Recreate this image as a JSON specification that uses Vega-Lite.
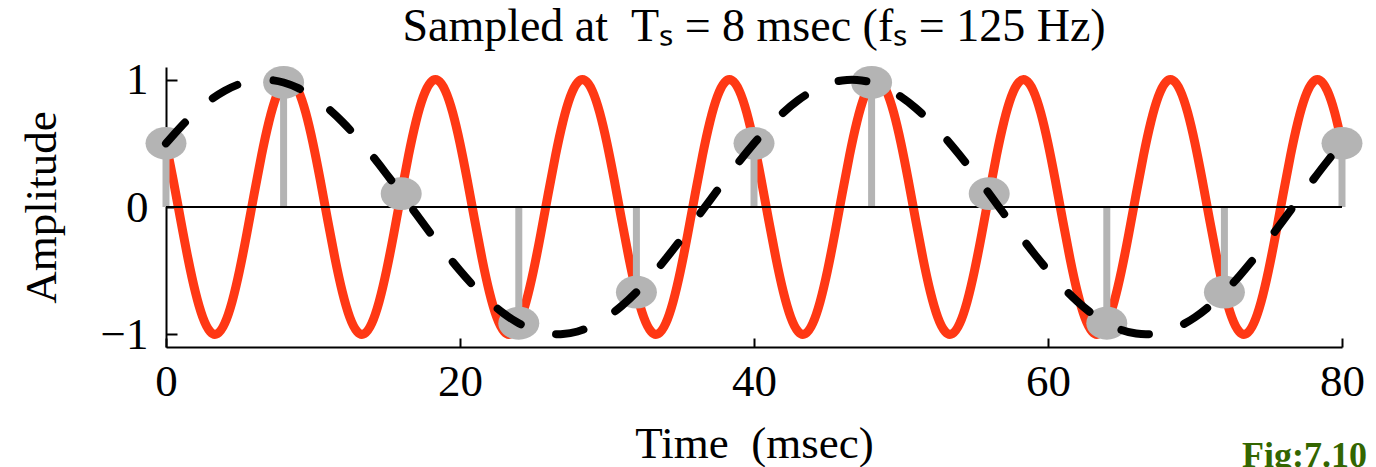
{
  "$schema": "https://vega.github.io/schema/vega-lite/v6.json",
  "width": 1176,
  "height": 280,
  "autosize": {"type": "none"},
  "padding": {"left": 166, "top": 67, "right": 34, "bottom": 120},
  "background": "white",
  "config": {"view": {"stroke": null}, "font": "Liberation Serif"},
  "title": {
    "text": "Sampled at \u00a0Tₛ = 8 msec (fₛ = 125 Hz)",
    "font": "Liberation Serif",
    "fontSize": 46,
    "fontWeight": "normal",
    "color": "black",
    "anchor": "middle",
    "offset": 7
  },
  "datasets": {
    "red": [
      {"t":0,"v":0.5},{"t":0.5,"v":0.2079},{"t":1,"v":-0.1045},{"t":1.5,"v":-0.4067},{"t":2,"v":-0.6691},{"t":2.5,"v":-0.866},{"t":3,"v":-0.9781},{"t":3.5,"v":-0.9945},{"t":4,"v":-0.9135},{"t":4.5,"v":-0.7431},{"t":5,"v":-0.5},{"t":5.5,"v":-0.2079},{"t":6,"v":0.1045},{"t":6.5,"v":0.4067},{"t":7,"v":0.6691},{"t":7.5,"v":0.866},{"t":8,"v":0.9781},{"t":8.5,"v":0.9945},{"t":9,"v":0.9135},{"t":9.5,"v":0.7431},
      {"t":10,"v":0.5},{"t":10.5,"v":0.2079},{"t":11,"v":-0.1045},{"t":11.5,"v":-0.4067},{"t":12,"v":-0.6691},{"t":12.5,"v":-0.866},{"t":13,"v":-0.9781},{"t":13.5,"v":-0.9945},{"t":14,"v":-0.9135},{"t":14.5,"v":-0.7431},{"t":15,"v":-0.5},{"t":15.5,"v":-0.2079},{"t":16,"v":0.1045},{"t":16.5,"v":0.4067},{"t":17,"v":0.6691},{"t":17.5,"v":0.866},{"t":18,"v":0.9781},{"t":18.5,"v":0.9945},{"t":19,"v":0.9135},{"t":19.5,"v":0.7431},
      {"t":20,"v":0.5},{"t":20.5,"v":0.2079},{"t":21,"v":-0.1045},{"t":21.5,"v":-0.4067},{"t":22,"v":-0.6691},{"t":22.5,"v":-0.866},{"t":23,"v":-0.9781},{"t":23.5,"v":-0.9945},{"t":24,"v":-0.9135},{"t":24.5,"v":-0.7431},{"t":25,"v":-0.5},{"t":25.5,"v":-0.2079},{"t":26,"v":0.1045},{"t":26.5,"v":0.4067},{"t":27,"v":0.6691},{"t":27.5,"v":0.866},{"t":28,"v":0.9781},{"t":28.5,"v":0.9945},{"t":29,"v":0.9135},{"t":29.5,"v":0.7431},
      {"t":30,"v":0.5},{"t":30.5,"v":0.2079},{"t":31,"v":-0.1045},{"t":31.5,"v":-0.4067},{"t":32,"v":-0.6691},{"t":32.5,"v":-0.866},{"t":33,"v":-0.9781},{"t":33.5,"v":-0.9945},{"t":34,"v":-0.9135},{"t":34.5,"v":-0.7431},{"t":35,"v":-0.5},{"t":35.5,"v":-0.2079},{"t":36,"v":0.1045},{"t":36.5,"v":0.4067},{"t":37,"v":0.6691},{"t":37.5,"v":0.866},{"t":38,"v":0.9781},{"t":38.5,"v":0.9945},{"t":39,"v":0.9135},{"t":39.5,"v":0.7431},
      {"t":40,"v":0.5},{"t":40.5,"v":0.2079},{"t":41,"v":-0.1045},{"t":41.5,"v":-0.4067},{"t":42,"v":-0.6691},{"t":42.5,"v":-0.866},{"t":43,"v":-0.9781},{"t":43.5,"v":-0.9945},{"t":44,"v":-0.9135},{"t":44.5,"v":-0.7431},{"t":45,"v":-0.5},{"t":45.5,"v":-0.2079},{"t":46,"v":0.1045},{"t":46.5,"v":0.4067},{"t":47,"v":0.6691},{"t":47.5,"v":0.866},{"t":48,"v":0.9781},{"t":48.5,"v":0.9945},{"t":49,"v":0.9135},{"t":49.5,"v":0.7431},
      {"t":50,"v":0.5},{"t":50.5,"v":0.2079},{"t":51,"v":-0.1045},{"t":51.5,"v":-0.4067},{"t":52,"v":-0.6691},{"t":52.5,"v":-0.866},{"t":53,"v":-0.9781},{"t":53.5,"v":-0.9945},{"t":54,"v":-0.9135},{"t":54.5,"v":-0.7431},{"t":55,"v":-0.5},{"t":55.5,"v":-0.2079},{"t":56,"v":0.1045},{"t":56.5,"v":0.4067},{"t":57,"v":0.6691},{"t":57.5,"v":0.866},{"t":58,"v":0.9781},{"t":58.5,"v":0.9945},{"t":59,"v":0.9135},{"t":59.5,"v":0.7431},
      {"t":60,"v":0.5},{"t":60.5,"v":0.2079},{"t":61,"v":-0.1045},{"t":61.5,"v":-0.4067},{"t":62,"v":-0.6691},{"t":62.5,"v":-0.866},{"t":63,"v":-0.9781},{"t":63.5,"v":-0.9945},{"t":64,"v":-0.9135},{"t":64.5,"v":-0.7431},{"t":65,"v":-0.5},{"t":65.5,"v":-0.2079},{"t":66,"v":0.1045},{"t":66.5,"v":0.4067},{"t":67,"v":0.6691},{"t":67.5,"v":0.866},{"t":68,"v":0.9781},{"t":68.5,"v":0.9945},{"t":69,"v":0.9135},{"t":69.5,"v":0.7431},
      {"t":70,"v":0.5},{"t":70.5,"v":0.2079},{"t":71,"v":-0.1045},{"t":71.5,"v":-0.4067},{"t":72,"v":-0.6691},{"t":72.5,"v":-0.866},{"t":73,"v":-0.9781},{"t":73.5,"v":-0.9945},{"t":74,"v":-0.9135},{"t":74.5,"v":-0.7431},{"t":75,"v":-0.5},{"t":75.5,"v":-0.2079},{"t":76,"v":0.1045},{"t":76.5,"v":0.4067},{"t":77,"v":0.6691},{"t":77.5,"v":0.866},{"t":78,"v":0.9781},{"t":78.5,"v":0.9945},{"t":79,"v":0.9135},{"t":79.5,"v":0.7431},
      {"t":80,"v":0.5}
    ],
    "alias": [
      {"t":0,"v":0.5},{"t":1,"v":0.6293},{"t":2,"v":0.7431},{"t":3,"v":0.8387},{"t":4,"v":0.9135},{"t":5,"v":0.9659},{"t":6,"v":0.9945},{"t":7,"v":0.9986},{"t":8,"v":0.9781},{"t":9,"v":0.9336},
      {"t":10,"v":0.866},{"t":11,"v":0.7771},{"t":12,"v":0.6691},{"t":13,"v":0.5446},{"t":14,"v":0.4067},{"t":15,"v":0.2588},{"t":16,"v":0.1045},{"t":17,"v":-0.0523},{"t":18,"v":-0.2079},{"t":19,"v":-0.3584},
      {"t":20,"v":-0.5},{"t":21,"v":-0.6293},{"t":22,"v":-0.7431},{"t":23,"v":-0.8387},{"t":24,"v":-0.9135},{"t":25,"v":-0.9659},{"t":26,"v":-0.9945},{"t":27,"v":-0.9986},{"t":28,"v":-0.9781},{"t":29,"v":-0.9336},
      {"t":30,"v":-0.866},{"t":31,"v":-0.7771},{"t":32,"v":-0.6691},{"t":33,"v":-0.5446},{"t":34,"v":-0.4067},{"t":35,"v":-0.2588},{"t":36,"v":-0.1045},{"t":37,"v":0.0523},{"t":38,"v":0.2079},{"t":39,"v":0.3584},
      {"t":40,"v":0.5},{"t":41,"v":0.6293},{"t":42,"v":0.7431},{"t":43,"v":0.8387},{"t":44,"v":0.9135},{"t":45,"v":0.9659},{"t":46,"v":0.9945},{"t":47,"v":0.9986},{"t":48,"v":0.9781},{"t":49,"v":0.9336},
      {"t":50,"v":0.866},{"t":51,"v":0.7771},{"t":52,"v":0.6691},{"t":53,"v":0.5446},{"t":54,"v":0.4067},{"t":55,"v":0.2588},{"t":56,"v":0.1045},{"t":57,"v":-0.0523},{"t":58,"v":-0.2079},{"t":59,"v":-0.3584},
      {"t":60,"v":-0.5},{"t":61,"v":-0.6293},{"t":62,"v":-0.7431},{"t":63,"v":-0.8387},{"t":64,"v":-0.9135},{"t":65,"v":-0.9659},{"t":66,"v":-0.9945},{"t":67,"v":-0.9986},{"t":68,"v":-0.9781},{"t":69,"v":-0.9336},
      {"t":70,"v":-0.866},{"t":71,"v":-0.7771},{"t":72,"v":-0.6691},{"t":73,"v":-0.5446},{"t":74,"v":-0.4067},{"t":75,"v":-0.2588},{"t":76,"v":-0.1045},{"t":77,"v":0.0523},{"t":78,"v":0.2079},{"t":79,"v":0.3584},
      {"t":80,"v":0.5}
    ],
    "samples": [
      {"t":0,"v":0.5},{"t":8,"v":0.9781},{"t":16,"v":0.1045},{"t":24,"v":-0.9135},{"t":32,"v":-0.6691},{"t":40,"v":0.5},{"t":48,"v":0.9781},{"t":56,"v":0.1045},{"t":64,"v":-0.9135},{"t":72,"v":-0.6691},{"t":80,"v":0.5}
    ],
    "zero": [{"t":0,"v":0},{"t":80,"v":0}],
    "note": [{"label":"Fig:7.10"}]
  },
  "layer": [
    {
      "data": {"name": "red"},
      "mark": {"type": "line", "color": "#ff3814", "strokeWidth": 9, "interpolate": "natural", "strokeCap": "round"},
      "encoding": {
        "x": {
          "field": "t", "type": "quantitative",
          "scale": {"domain": [0, 80], "nice": false, "zero": false},
          "title": "Time\u00a0 (msec)",
          "axis": {
            "values": [0, 20, 40, 60, 80], "grid": false, "format": ".0f",
            "domainColor": "black", "domainWidth": 2,
            "tickColor": "black", "tickWidth": 2, "tickSize": -9,
            "labelFont": "Liberation Serif", "labelFontSize": 45, "labelColor": "black",
            "labelPadding": 21, "labelFlush": false, "labelOverlap": false,
            "titleFont": "Liberation Serif", "titleFontSize": 45, "titleFontWeight": "normal",
            "titleColor": "black", "titlePadding": 17
          }
        },
        "y": {
          "field": "v", "type": "quantitative",
          "scale": {"domain": [-1.1, 1.1], "nice": false, "zero": false},
          "title": "Amplitude",
          "axis": {
            "values": [-1, 0, 1], "grid": false, "format": ".0f",
            "domainColor": "black", "domainWidth": 2,
            "tickColor": "black", "tickWidth": 2, "tickSize": -11,
            "labelFont": "Liberation Serif", "labelFontSize": 45, "labelColor": "black",
            "labelPadding": 29, "labelFlush": false, "labelOverlap": false,
            "titleFont": "Liberation Serif", "titleFontSize": 45, "titleFontWeight": "normal",
            "titleColor": "black", "titlePadding": 36
          }
        }
      }
    },
    {
      "data": {"name": "samples"},
      "mark": {"type": "rule", "color": "#b4b4b4", "strokeWidth": 7},
      "encoding": {
        "x": {"field": "t", "type": "quantitative"},
        "y": {"field": "v", "type": "quantitative"},
        "y2": {"datum": 0}
      }
    },
    {
      "data": {"name": "zero"},
      "mark": {"type": "line", "color": "black", "strokeWidth": 2},
      "encoding": {
        "x": {"field": "t", "type": "quantitative"},
        "y": {"field": "v", "type": "quantitative"}
      }
    },
    {
      "data": {"name": "samples"},
      "mark": {"type": "point", "filled": true, "opacity": 1, "color": "#b4b4b4", "size": 1681,
               "shape": "M1,0 C1,0.4418 0.5523,0.8 0,0.8 C-0.5523,0.8 -1,0.4418 -1,0 C-1,-0.4418 -0.5523,-0.8 0,-0.8 C0.5523,-0.8 1,-0.4418 1,0 Z"},
      "encoding": {
        "x": {"field": "t", "type": "quantitative"},
        "y": {"field": "v", "type": "quantitative"}
      }
    },
    {
      "data": {"name": "alias"},
      "mark": {"type": "line", "color": "black", "strokeWidth": 8, "interpolate": "natural", "strokeCap": "round", "strokeDash": [28, 37]},
      "encoding": {
        "x": {"field": "t", "type": "quantitative"},
        "y": {"field": "v", "type": "quantitative"}
      }
    },
    {
      "data": {"name": "note"},
      "mark": {"type": "text", "font": "Liberation Serif", "fontSize": 36, "fontWeight": "bold", "fill": "#336600", "align": "right", "baseline": "alphabetic", "dx": 25},
      "encoding": {
        "x": {"datum": 80, "type": "quantitative"},
        "y": {"datum": -2.04, "type": "quantitative"},
        "text": {"field": "label", "type": "nominal"}
      }
    }
  ]
}
